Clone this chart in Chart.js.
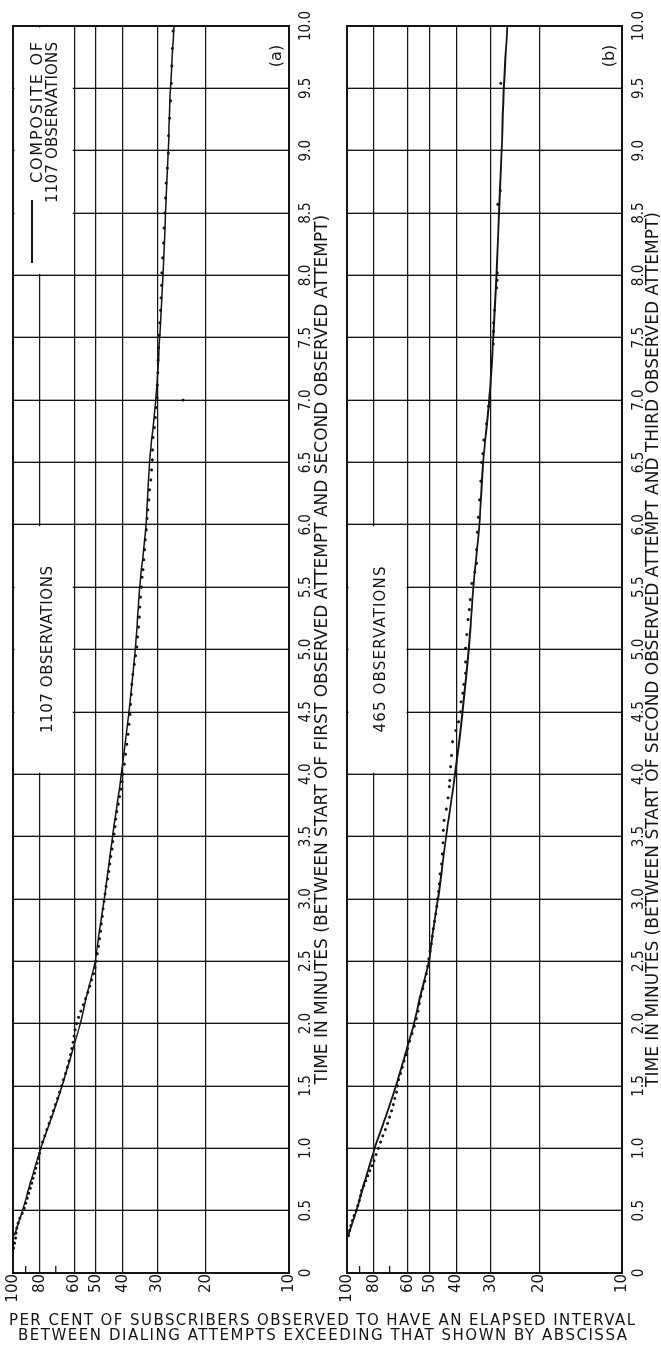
<!DOCTYPE html>
<html><head><meta charset="utf-8">
<script src="https://cdn.jsdelivr.net/npm/chart.js@4"></script>
<style>
html,body{margin:0;padding:0;background:#fff;width:661px;height:1346px;overflow:hidden;}
#rot{position:absolute;left:0;top:1346px;width:1346px;height:661px;transform-origin:0 0;transform:rotate(-90deg);}
#rot canvas{position:absolute;left:0;top:0;}
.yt{position:absolute;white-space:nowrap;font-family:'DejaVu Sans';font-size:15px;line-height:15px;color:#141414;}
</style></head><body>
<div id="rot"><canvas id="ca" width="1346" height="661"></canvas><canvas id="cb" width="1346" height="661"></canvas></div>
<div class="yt" id="yt1">PER CENT OF SUBSCRIBERS OBSERVED TO HAVE AN ELAPSED INTERVAL</div>
<div class="yt" id="yt2">BETWEEN DIALING ATTEMPTS EXCEEDING THAT SHOWN BY ABSCISSA</div>
<script>
// ---------- data ----------
const timeTickValues = [0,0.5,1,1.5,2,2.5,3,3.5,4,4.5,5,5.5,6,6.5,7,7.5,8,8.5,9,9.5,10];
const timeTickLabels = ['0','0.5','1.0','1.5','2.0','2.5','3.0','3.5','4.0','4.5','5.0','5.5','6.0','6.5','7.0','7.5','8.0','8.5','9.0','9.5','10.0'];
const percentTicks = [10,20,30,40,50,60,80,100];
const minorPercentTicks = [70,90];

const titleA = 'TIME IN MINUTES (BETWEEN START OF FIRST OBSERVED ATTEMPT AND SECOND OBSERVED ATTEMPT)';
const titleB = 'TIME IN MINUTES (BETWEEN START OF SECOND OBSERVED ATTEMPT AND THIRD OBSERVED ATTEMPT)';

// composite curve (solid line, shown in both panels)
const compTime = [0.3,0.5,0.75,1.0,1.25,1.5,1.75,2.0,2.25,2.5,2.75,3.0,3.5,4.0,4.5,5.0,5.5,6.0,6.5,7.0,7.5,8.0,8.5,9.0,9.5,10.0];
const compPct  = [99,92.5,85.8,79.3,72.4,66.4,61.5,57.1,53.7,50.4,48.6,46.7,43.6,40.5,38.0,36.1,34.7,33.0,32.0,30.4,29.4,28.6,28.0,27.4,26.9,26.1];

// panel (a): 1107 observations (dots)
const obsATime = [0.20,0.24,0.28,0.32,0.36,0.40,0.44,0.48,0.52,0.56,0.60,0.64,0.68,0.72,0.76,0.80,0.84,0.88,0.92,0.96,
 1.00,1.05,1.10,1.15,1.20,1.25,1.30,1.35,1.40,1.45,1.50,1.55,1.60,1.65,1.70,1.75,1.80,1.85,1.90,1.95,2.00,2.05,2.10,2.15,2.20,2.25,2.30,2.35,2.40,2.45,2.50,
 2.56,2.62,2.68,2.74,2.80,2.86,2.92,2.98,3.04,3.10,3.16,3.22,3.28,3.34,3.40,3.46,3.52,3.58,3.64,3.70,3.76,3.82,3.88,3.94,
 4.00,4.08,4.16,4.24,4.32,4.40,4.48,4.56,4.64,4.72,4.80,4.88,4.95,5.02,5.10,5.18,5.26,5.34,5.42,5.50,5.58,5.64,5.72,5.80,5.88,5.96,
 6.05,6.12,6.20,6.28,6.36,6.44,6.52,6.60,6.70,6.78,6.86,6.94,7.02,
 7.12,7.22,7.32,7.42,7.52,7.62,7.72,7.82,7.92,8.02,
 8.14,8.26,8.38,8.50,8.62,8.74,8.86,8.98,9.12,9.26,9.40,9.54,9.68,9.82,9.96,7.00];
const obsAPct = [99.6,98.8,98.0,97.6,96.9,96.0,94.5,92.5,91.0,89.9,88.8,87.7,86.6,85.6,84.6,83.6,82.7,81.9,81.0,80.2,
 79.5,78.2,76.8,75.5,74.1,72.8,71.5,70.3,69.0,67.8,66.7,65.7,64.6,63.6,62.7,61.9,61.2,60.6,60.1,59.6,58.9,57.9,56.8,55.7,54.6,53.6,52.7,51.9,51.1,50.5,50.0,
 49.5,49.0,48.6,48.2,47.9,47.5,47.2,46.8,46.4,46.0,45.5,45.0,44.6,44.2,43.8,43.5,43.1,42.7,42.4,42.1,41.6,41.1,40.7,40.3,
 40.0,39.5,39.1,38.7,38.3,38.0,37.7,37.5,37.3,37.1,36.8,36.4,36.0,35.6,35.4,35.1,34.9,34.7,34.5,34.3,34.1,33.8,33.6,33.4,33.2,32.9,
 32.7,32.5,32.2,32.0,31.7,31.5,31.3,31.2,31.1,30.8,30.5,30.3,30.1,
 30.0,29.9,29.8,29.7,29.6,29.4,29.2,29.1,29.0,28.9,
 28.7,28.5,28.4,28.2,28.0,27.9,27.6,27.4,27.3,27.1,26.9,26.7,26.6,26.5,26.3,24.2];

// panel (b): 465 observations (dots)
const obsBTime = [0.30,0.34,0.38,0.42,0.46,0.50,0.54,0.58,0.62,0.66,0.70,0.74,0.78,0.82,0.86,0.90,
 0.95,1.00,1.05,1.10,1.15,1.20,1.25,1.30,1.35,1.40,1.45,1.50,1.55,1.60,1.65,1.70,1.75,1.80,
 1.86,1.92,1.98,2.04,2.10,2.16,2.22,2.28,2.34,2.40,2.46,2.52,2.58,2.64,2.70,2.76,2.82,2.88,2.94,3.00,3.06,3.12,
 3.20,3.28,3.36,3.45,3.55,3.63,3.72,3.81,3.90,3.95,4.06,4.15,4.26,4.35,4.42,4.50,4.58,4.65,4.72,4.81,4.90,5.01,5.12,5.24,
 5.32,5.40,5.53,5.62,5.69,5.80,5.94,6.06,6.20,6.35,6.50,6.57,6.68,6.81,6.95,7.45,7.55,7.62,7.72,7.90,7.96,8.02,8.57,8.68,9.54];
const obsBPct = [98.8,97.9,96.9,95.7,94.3,92.8,91.4,90.2,89.4,88.6,87.0,85.4,84.0,82.7,81.2,79.8,
 78.5,77.0,75.6,74.1,72.6,71.2,70.0,68.9,67.9,67.0,66.1,65.6,65.0,63.9,62.9,62.0,61.1,60.3,
 59.2,58.0,56.9,56.0,55.2,54.6,53.9,53.0,52.2,51.5,51.0,50.4,49.9,49.4,49.0,48.6,48.1,47.6,47.2,46.9,46.5,46.2,
 45.9,45.3,45.0,44.8,44.7,44.4,43.6,42.9,42.5,42.3,42.0,41.7,41.3,40.2,39.3,38.7,38.5,37.9,37.6,37.1,37.1,37.1,36.7,36.3,
 35.9,35.6,35.2,34.3,33.8,33.8,33.6,33.3,33.0,32.6,32.4,32.1,31.8,31.1,30.6,29.4,29.3,29.3,29.1,28.6,28.5,28.4,28.3,27.7,27.6];

// ---------- drawing ----------
const INK = '#141414';
const zip = (a, b) => a.map((v, i) => ({x: v, y: b[i]}));

function drawFit(ctx, text, x, y, width, font, align) {
  ctx.font = font;
  if ('letterSpacing' in ctx) ctx.letterSpacing = '0px';
  const w = ctx.measureText(text).width;
  const start = align === 'center' ? x - width / 2 : align === 'right' ? x - width : x;
  ctx.textAlign = 'left'; ctx.textBaseline = 'alphabetic';
  if ('letterSpacing' in ctx) {
    ctx.letterSpacing = ((width - w) / (text.length - 1)) + 'px';
    ctx.fillText(text, start, y);
    ctx.letterSpacing = '0px';
  } else {
    ctx.save(); ctx.translate(start, y); ctx.scale(width / w, 1); ctx.fillText(text, 0, 0); ctx.restore();
  }
}

const decor = {
  id: 'decor',
  beforeDatasetsDraw(chart, args, o) {
    const {ctx, chartArea: ca, scales: {x, y}} = chart;
    ctx.save();
    o.boxes.forEach(b => {
      const x1 = x.getPixelForValue(b.t0), x2 = x.getPixelForValue(b.t1);
      const y1 = y.getPixelForValue(100), y2 = y.getPixelForValue(60);
      ctx.fillStyle = '#fff';
      ctx.fillRect(x1 + 1.5, y1 + 1.5, x2 - x1 - 3, y2 - y1 - 3);
      ctx.fillStyle = INK;
      b.texts.forEach(t => {
        const ax = t.align === 'right' ? x2 + t.dx : (x1 + x2) / 2;
        drawFit(ctx, t.text, ax, ca.top + t.dy, t.w, t.font, t.align);
      });
      if (b.sample) {
        ctx.strokeStyle = INK; ctx.lineWidth = 2.2;
        ctx.beginPath();
        ctx.moveTo(x2 + b.sample.from, ca.top + b.sample.dy);
        ctx.lineTo(x2 + b.sample.to, ca.top + b.sample.dy);
        ctx.stroke();
      }
    });
    // minor ticks at 90 and 70 on the time-0 edge
    ctx.strokeStyle = INK; ctx.lineWidth = 1.3;
    minorPercentTicks.forEach(p => {
      const yy = y.getPixelForValue(p);
      ctx.beginPath(); ctx.moveTo(ca.left, yy); ctx.lineTo(ca.left + 7, yy); ctx.stroke();
    });
    // panel letter
    ctx.fillStyle = INK;
    ctx.font = "16px 'DejaVu Sans'";
    ctx.textAlign = 'center'; ctx.textBaseline = 'middle';
    ctx.fillText(o.letter, x.getPixelForValue(10) - 30, ca.bottom - 12);
    ctx.restore();
  },
  afterDatasetsDraw(chart) {
    const {ctx, chartArea: ca} = chart;
    ctx.save();
    ctx.strokeStyle = INK; ctx.lineWidth = 2;
    ctx.strokeRect(ca.left, ca.top, ca.right - ca.left, ca.bottom - ca.top);
    ctx.restore();
  }
};

function makePanel(id, cfg) {
  return new Chart(document.getElementById(id), {
    type: 'scatter',
    data: {
      datasets: [
        {data: zip(cfg.obsT, cfg.obsP), showLine: false, pointRadius: cfg.dotR, pointHoverRadius: 0,
         backgroundColor: INK, borderWidth: 0, order: 0},
        {data: zip(compTime, compPct), showLine: true, borderColor: INK, borderWidth: cfg.lineW,
         pointRadius: 0, cubicInterpolationMode: 'monotone', fill: false, order: 1}
      ]
    },
    options: {
      responsive: false, animation: false, devicePixelRatio: 1,
      layout: {padding: {left: 0, right: 26, top: cfg.top, bottom: cfg.bottomPad}},
      plugins: {
        legend: {display: false}, tooltip: {enabled: false},
        decor: {boxes: cfg.boxes, letter: cfg.letter}
      },
      scales: {
        x: {
          type: 'linear', min: 0, max: 10,
          afterBuildTicks: s => { s.ticks = timeTickValues.map(v => ({value: v})); },
          afterFit: s => { s.height = cfg.xh; },
          ticks: {
            autoSkip: false, maxRotation: 0, minRotation: 0, padding: cfg.tickPad, color: INK,
            font: {family: "'Liberation Sans Narrow','DejaVu Sans Condensed','DejaVu Sans'", size: 15},
            callback: v => timeTickLabels[timeTickValues.indexOf(v)]
          },
          grid: {color: INK, lineWidth: 1.35, drawTicks: false},
          border: {display: false},
          title: {display: true, text: cfg.title, color: INK,
                  font: {family: "'DejaVu Sans'", size: 17}, padding: {top: 0, bottom: cfg.titlePad}}
        },
        y: {
          type: 'logarithmic', min: 10, max: 100,
          afterBuildTicks: s => { s.ticks = percentTicks.map(v => ({value: v})); },
          afterFit: s => { s.width = 73; },
          ticks: {autoSkip: false, padding: 1, color: INK,
                  font: {family: "'DejaVu Sans'", size: 15},
                  callback: v => String(v)},
          grid: {color: INK, lineWidth: 1.35, drawTicks: false},
          border: {display: false}
        }
      }
    },
    plugins: [decor]
  });
}

const F15 = "15px 'DejaVu Sans'";
makePanel('ca', {
  obsT: obsATime, obsP: obsAPct, dotR: 1.5, lineW: 1.5, top: 13, bottomPad: 661 - 289 - 46, xh: 46, tickPad: 8, titlePad: 2,
  title: titleA, letter: '(a)',
  boxes: [
    {t0: 8, t1: 10, texts: [
      {text: 'COMPOSITE OF', dx: -16, dy: 29, w: 141, font: "16px 'DejaVu Sans'", align: 'right'},
      {text: '1107 OBSERVATIONS', dx: -16, dy: 44, w: 161, font: F15, align: 'right'}],
     sample: {from: -237, to: -174, dy: 19}},
    {t0: 4, t1: 6, texts: [{text: '1107 OBSERVATIONS', dy: 39, w: 167, font: F15, align: 'center'}]}
  ]
});
makePanel('cb', {
  obsT: obsBTime, obsP: obsBPct, dotR: 1.5, lineW: 1.9, top: 347, bottomPad: 0, xh: 39, tickPad: 8, titlePad: -3,
  title: titleB, letter: '(b)',
  boxes: [
    {t0: 4, t1: 6, texts: [{text: '465 OBSERVATIONS', dy: 38, w: 166, font: F15, align: 'center'}]}
  ]
});

// bottom (percent) title, unrotated HTML text fitted to the reference width
(function () {
  const c = document.createElement('canvas').getContext('2d');
  c.font = "15px 'DejaVu Sans'";
  [['yt1', 9, 626, 1313], ['yt2', 18, 609, 1328]].forEach(([id, left, width, top]) => {
    const el = document.getElementById(id);
    const t = el.textContent;
    const w = c.measureText(t).width;
    el.style.letterSpacing = ((width - w) / (t.length - 1)) + 'px';
    el.style.left = left + 'px';
    el.style.top = top + 'px';
  });
})();
</script>
</body></html>
